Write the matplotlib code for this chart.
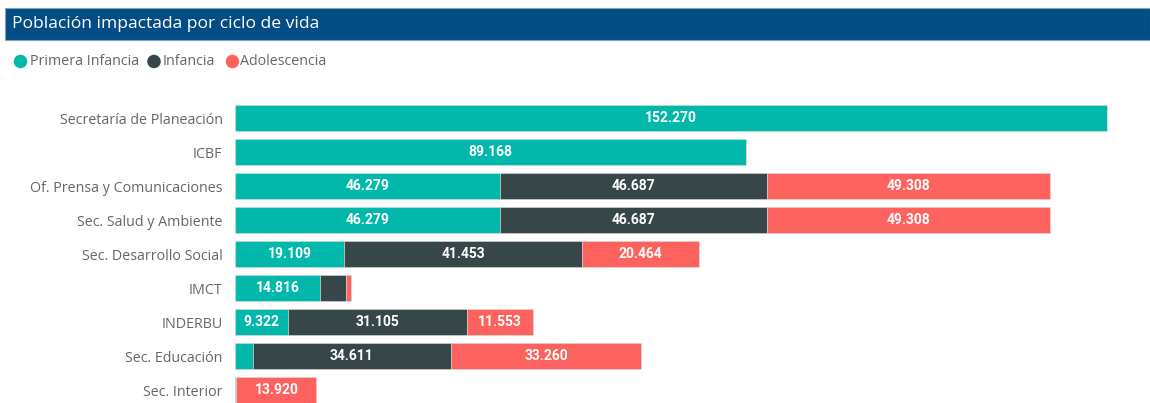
import matplotlib
matplotlib.use("Agg")
import matplotlib.pyplot as plt
from matplotlib.patches import Rectangle, Ellipse
import numpy as np

categories = ["Secretaría de Planeación", "ICBF", "Of. Prensa y Comunicaciones",
              "Sec. Salud y Ambiente", "Sec. Desarrollo Social", "IMCT", "INDERBU",
              "Sec. Educación", "Sec. Interior"]
primera_infancia = [152270, 89168, 46279, 46279, 19109, 14816, 9322, 3100, 250]
infancia = [0, 0, 46687, 46687, 41453, 4500, 31105, 34611, 0]
adolescencia = [0, 0, 49308, 49308, 20464, 900, 11553, 33260, 13920]
series_names = ["Primera Infancia", "Infancia", "Adolescencia"]
colors = ["#01B8AA", "#374649", "#FD625E"]

W, H = 1150, 403
fig = plt.figure(figsize=(W / 100, H / 100), dpi=100)

# Title bar
fig.patches.append(Rectangle((5 / W, 1 - 40 / H), 1 - 5 / W, 32 / H,
                             transform=fig.transFigure, facecolor="#034C84",
                             edgecolor="#7FA3C4", linewidth=0.8, zorder=0))
fig.text(12 / W, 1 - 24 / H, "Población impactada por ciclo de vida", color="white",
         fontsize=12.6, family="Open Sans", va="center", ha="left")

# Axes placement (pixels)
left, right = 235, 1145
top, bottom = 101, 407
ax = fig.add_axes([left / W, (H - bottom) / H, (right - left) / W, (bottom - top) / H])

y = np.arange(len(categories))
series = [primera_infancia, infancia, adolescencia]
lefts = np.zeros(len(categories))
for vals, col in zip(series, colors):
    vals = np.array(vals, dtype=float)
    ax.barh(y, vals, left=lefts, height=0.76, color=col, edgecolor="#dcdcdc", linewidth=0.4)
    for yi, (l, v) in enumerate(zip(lefts, vals)):
        if v >= 8000:
            ax.text(l + v / 2, yi, f"{int(v):,}".replace(",", "."), ha="center", va="center",
                    color="white", fontsize=10, fontweight="bold", family="Roboto")
    lefts += vals

ax.set_xlim(0, 152270 * (right - left) / 872)
ax.set_ylim(len(categories) - 0.5, -0.5)
ax.set_yticks(y)
ax.set_yticklabels(categories, family="Open Sans", fontsize=10.3, color="#666666")
ax.tick_params(axis="y", length=0, pad=9)
ax.set_xticks([])
for s in ax.spines.values():
    s.set_visible(False)

# Legend (manual)
legend_x = [(20.5, 30), (154, 163), (232.5, 240)]
ly = 1 - 61.5 / H
for (cx, tx), name, c in zip(legend_x, series_names, colors):
    fig.patches.append(Ellipse((cx / W, ly), 13.5 / W, 13.5 / H, transform=fig.transFigure,
                               facecolor=c, edgecolor="none"))
    fig.text(tx / W, ly, name, family="Open Sans", fontsize=10.3, color="#666666",
             va="center", ha="left")

fig.savefig("out.png", dpi=100)
